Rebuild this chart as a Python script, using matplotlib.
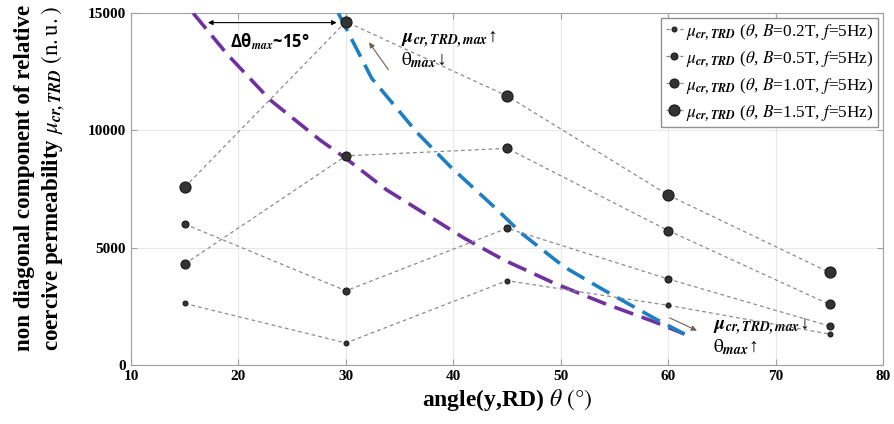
import matplotlib
matplotlib.use("Agg")
import matplotlib.pyplot as plt

plt.rcParams['font.family'] = ['Liberation Serif', 'DejaVu Serif']
plt.rcParams['mathtext.fontset'] = 'stix'

# valeurs
angles = [15, 30, 45, 60, 75]
mu_02 = [2620, 940, 3590, 2540, 1320]
mu_05 = [6000, 3160, 5820, 3660, 1660]
mu_10 = [4300, 8900, 9220, 5720, 2580]
mu_15 = [7570, 14610, 11450, 7230, 3940]
series = [("0.2", mu_02, 3.5), ("0.5", mu_05, 5), ("1.0", mu_10, 6.5), ("1.5", mu_15, 8)]

# courbes de tendance (points relevés)
violet_x = [15.8, 19.0, 22.95, 27.6, 29.8, 33.8, 37.5, 41.0, 44.7, 49.4, 54.0, 58.7, 61.5]
violet_y = [14965, 13200, 11280, 9570, 8860, 7450, 6400, 5400, 4470, 3480, 2630, 1840, 1320]
bleu_x = [29.3, 32.4, 36.6, 39.7, 41.6, 44.1, 46.3, 50.3, 54.0, 58.7, 61.5]
bleu_y = [14965, 12200, 9900, 8450, 7650, 6600, 5620, 4180, 3190, 1990, 1320]

fig = plt.figure(figsize=(8.94, 4.24), dpi=100)
ax = fig.add_axes([0.1465, 0.139, 0.8415, 0.8315])

for b, vals, ms in series:
    ax.plot(angles, vals, ls=(0, (3, 2.5)), lw=0.9, color='#8c8c8c',
            marker='o', ms=ms, mfc='#333333', mec='#1a1a1a', mew=0.8, zorder=4,
            label=r"$\mu_{\mathbfit{cr,TRD}}$ ($\theta$, $B$=" + b + "T, $f$=5Hz)")

ax.plot(violet_x, violet_y, color='#7030a0', lw=2.6, dashes=(5.5, 2.5), zorder=3)
ax.plot(bleu_x, bleu_y, color='#1f7fc4', lw=2.6, dashes=(5.5, 2.5), zorder=3)

ax.set_xlim(10, 80)
ax.set_ylim(0, 15000)
ax.set_xticks(range(10, 81, 10))
ax.set_yticks([0, 5000, 10000, 15000])
ax.grid(color='#e8e8e8', lw=0.8)
ax.set_axisbelow(True)
for s in ax.spines.values():
    s.set_color('#a0a0a0')
ax.tick_params(direction='in', length=4, color='#a0a0a0', top=True, right=True,
               labelsize=11)
for lab in ax.get_xticklabels() + ax.get_yticklabels():
    lab.set_fontweight('bold')

ax.set_xlabel(r"angle(y,RD) $\theta\ \mathrm{(°)}$", fontsize=17, fontweight='bold')
ax.xaxis.set_label_coords(0.50, -0.062)

# libellé vertical en deux lignes
fig.text(25 / 894, 0.58, "non diagonal component of relative", rotation=90,
         fontsize=16.6, fontweight='bold', ha='center', va='center')
fig.text(53 / 894, 0.58, r"coercive permeability $\mu_{\mathbfit{cr,TRD}}\ \mathrm{(n.u.)}$",
         rotation=90, fontsize=16.6, fontweight='bold', ha='center', va='center')

leg = ax.legend(loc='upper right', fontsize=12.4, handlelength=1.0, handletextpad=0.2,
                borderpad=0.25, borderaxespad=0.3, fancybox=False, framealpha=1,
                labelspacing=0.42)
leg.get_frame().set_edgecolor('#909090')

# annotations
ax.annotate('', xy=(16.9, 14570), xytext=(29.4, 14570),
            arrowprops=dict(arrowstyle='<|-|>', color='black', lw=0.8, mutation_scale=7))
ax.text(22.9, 13745, r"Δθ$_{\mathbfit{max}}$~15°", family=['Open Sans', 'DejaVu Sans'],
        fontweight='bold', fontsize=12, ha='center', va='center')
ax.annotate('', xy=(32.0, 13830), xytext=(34.1, 12470),
            arrowprops=dict(arrowstyle='-|>', color='#6e6055', lw=0.8, mutation_scale=8))
ax.text(35.1, 13830, r"$\mathbfit{\mu}_{\mathbfit{cr,TRD,max}}$↑", fontsize=14,
        ha='left', va='center')
ax.text(35.1, 12980, r"$\mathrm{\theta}_{\mathbfit{max}}$↓", fontsize=14,
        ha='left', va='center')
ax.annotate('', xy=(62.9, 1417), xytext=(59.9, 2055),
            arrowprops=dict(arrowstyle='-|>', color='#6e6055', lw=0.8, mutation_scale=8))
ax.text(64.2, 1617, r"$\mathbfit{\mu}_{\mathbfit{cr,TRD,max}}$↓", fontsize=14,
        ha='left', va='center')
ax.text(64.2, 766, r"$\mathrm{\theta}_{\mathbfit{max}}$↑", fontsize=14,
        ha='left', va='center')

fig.savefig("out.png", dpi=100)
